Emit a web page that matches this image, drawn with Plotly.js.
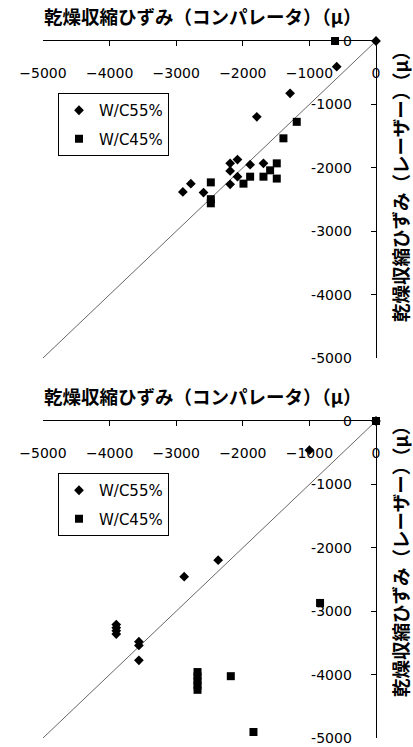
<!DOCTYPE html>
<html>
<head>
<meta charset="utf-8">
<script src="https://cdn.plot.ly/plotly-3.0.1.min.js"></script>
<style>html,body{margin:0;padding:0;background:#fff;}#chart{width:413px;height:747px;}</style>
</head>
<body>
<div id="chart"></div>
<script>
// ---- data ----
const seriesNames = ['W/C55%', 'W/C45%'];
const xTitle = '乾燥収縮ひずみ（コンパレータ）（μ）';
const yTitle = '乾燥収縮ひずみ（レーザー）（μ）';
const tickVals = [-5000, -4000, -3000, -2000, -1000, 0];
const xTickText = ['−5000', '−4000', '−3000', '−2000', '−1000', '0'];
const yTickText = ['-5000', '-4000', '-3000', '-2000', '-1000', '0'];
const refLine = [-5000, 0];

// upper chart
const top55x = [0, -590, -1290, -1790, -2080, -2190, -2190, -2080, -2190, -1890, -1690, -2780, -2900, -2590];
const top55y = [0, -405, -825, -1195, -1870, -1930, -2050, -2140, -2260, -1950, -1930, -2250, -2380, -2390];
const top45x = [-615, -2480, -2480, -2480, -1990, -1890, -1690, -1490, -1590, -1490, -1390, -1190];
const top45y = [0, -2230, -2495, -2560, -2250, -2140, -2140, -1930, -2040, -2170, -1535, -1275];

// lower chart
const bot55x = [0, -1000, -2370, -2880, -3900, -3900, -3900, -3900, -3560, -3560, -3560];
const bot55y = [0, -460, -2195, -2455, -3210, -3260, -3310, -3360, -3480, -3540, -3775];
const bot45x = [0, -2680, -2680, -2680, -2680, -2680, -2180, -1840, -840];
const bot45y = [0, -3960, -4030, -4100, -4170, -4240, -4025, -4905, -2870];

// ---- layout helpers ----
const W = 413, H = 747;
const px = v => v / W;
const py = v => 1 - v / H;
const tickFont = {family: 'DejaVu Sans, Verdana, sans-serif', size: 14, color: '#000'};
const titleFont = {family: 'Noto Sans CJK JP, sans-serif', size: 18.5, color: '#000', weight: 'bold'};

function xAxis(anchor) {
  return {
    domain: [px(43), px(376)], anchor: anchor, side: 'top', range: [-5000, 0],
    showline: true, linecolor: '#000', linewidth: 1, mirror: false,
    ticks: 'inside', ticklen: 5, tickwidth: 1, tickcolor: '#000',
    tickvals: tickVals, ticktext: xTickText,
    ticklabelposition: 'inside', ticklabelstandoff: 22, ticklabeloverflow: 'allow',
    showgrid: false, zeroline: false, tickfont: tickFont, fixedrange: true
  };
}
function yAxis(anchor, top, bottom) {
  return {
    domain: [py(bottom), py(top)], anchor: anchor, side: 'right', range: [-5000, 0],
    showline: true, linecolor: '#000', linewidth: 1, mirror: false,
    ticks: 'inside', ticklen: 5, tickwidth: 1, tickcolor: '#000',
    tickvals: tickVals, ticktext: yTickText,
    ticklabelposition: 'inside', ticklabelstandoff: 19, ticklabeloverflow: 'allow',
    showgrid: false, zeroline: false, tickfont: tickFont, fixedrange: true
  };
}
function legendBox(topPx) {
  return {
    x: px(58), y: py(topPx), xanchor: 'left', yanchor: 'top',
    bordercolor: '#000', borderwidth: 1, bgcolor: '#fff',
    font: {family: 'DejaVu Sans, Verdana, sans-serif', size: 15, color: '#000'},
    traceorder: 'grouped', tracegroupgap: 6, itemwidth: 30
  };
}

const mk55 = {symbol: 'diamond', size: 7.5, color: '#000', line: {width: 0}};
const mk45 = {symbol: 'square', size: 8, color: '#000', line: {width: 0}};

const data = [
  {x: refLine, y: refLine, mode: 'lines', line: {color: '#666', width: 1}, showlegend: false, hoverinfo: 'skip', xaxis: 'x', yaxis: 'y'},
  {x: top55x, y: top55y, mode: 'markers', marker: mk55, name: seriesNames[0], legendgroup: 'a1', xaxis: 'x', yaxis: 'y', legend: 'legend', cliponaxis: false},
  {x: top45x, y: top45y, mode: 'markers', marker: mk45, name: seriesNames[1], legendgroup: 'b1', xaxis: 'x', yaxis: 'y', legend: 'legend', cliponaxis: false},
  {x: refLine, y: refLine, mode: 'lines', line: {color: '#666', width: 1}, showlegend: false, hoverinfo: 'skip', xaxis: 'x2', yaxis: 'y2'},
  {x: bot55x, y: bot55y, mode: 'markers', marker: mk55, name: seriesNames[0], legendgroup: 'a2', xaxis: 'x2', yaxis: 'y2', legend: 'legend2', cliponaxis: false},
  {x: bot45x, y: bot45y, mode: 'markers', marker: mk45, name: seriesNames[1], legendgroup: 'b2', xaxis: 'x2', yaxis: 'y2', legend: 'legend2', cliponaxis: false}
];

const layout = {
  width: W, height: H, margin: {l: 0, r: 0, t: 0, b: 0},
  paper_bgcolor: '#fff', plot_bgcolor: 'rgba(0,0,0,0)',
  showlegend: true,
  xaxis: xAxis('y'), yaxis: yAxis('x', 41, 358),
  xaxis2: xAxis('y2'), yaxis2: yAxis('x2', 421, 738),
  legend: legendBox(93), legend2: legendBox(473),
  annotations: [
    {text: '<b>' + xTitle + '</b>', xref: 'paper', yref: 'paper', x: px(42), y: py(15.5), xanchor: 'left', yanchor: 'middle', showarrow: false, font: titleFont},
    {text: '<b>' + yTitle + '</b>', xref: 'paper', yref: 'paper', x: px(400), y: py(182), xanchor: 'center', yanchor: 'middle', textangle: -90, showarrow: false, font: titleFont},
    {text: '<b>' + xTitle + '</b>', xref: 'paper', yref: 'paper', x: px(42), y: py(395.5), xanchor: 'left', yanchor: 'middle', showarrow: false, font: titleFont},
    {text: '<b>' + yTitle + '</b>', xref: 'paper', yref: 'paper', x: px(400), y: py(557), xanchor: 'center', yanchor: 'middle', textangle: -90, showarrow: false, font: titleFont}
  ]
};

Plotly.newPlot('chart', data, layout, {staticPlot: true, displayModeBar: false});
</script>
</body>
</html>
